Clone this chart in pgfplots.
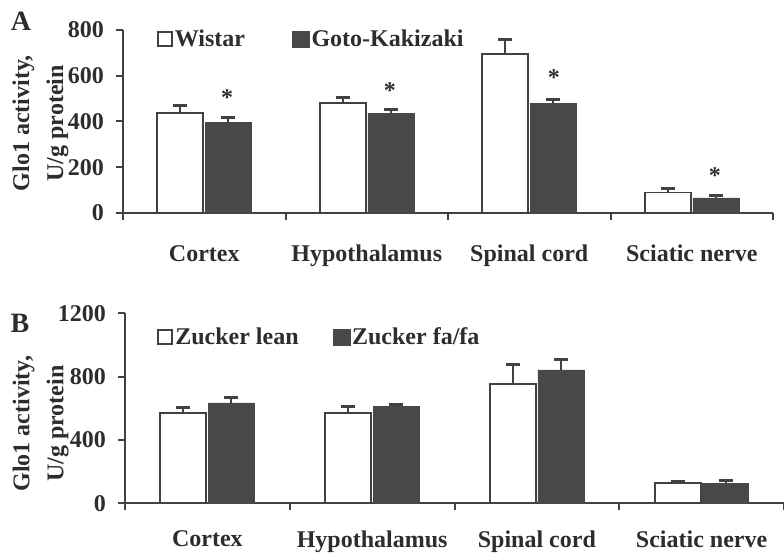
\documentclass[border=0pt]{standalone}
\usepackage{pgfplots}
\pgfplotsset{compat=1.18}
\usepackage{fontspec}
\setmainfont{Liberation Serif}
\definecolor{txt}{RGB}{45,45,45}
\definecolor{barc}{RGB}{72,72,72}
\definecolor{linec}{RGB}{65,65,65}
\newcommand{\bigf}{\fontsize{24}{34}\selectfont\bfseries}
\pgfplotsset{
  myaxis/.style={
    scale only axis,
    axis x line*=bottom, axis y line*=left,
    axis line style={linec, line width=2pt},
    xmin=-0.5, xmax=3.5, ymin=0,
    xtick={-0.5,0.5,1.5,2.5,3.5},
    xticklabels={},
    extra x ticks={0,1,2,3},
    extra x tick labels={Cortex,Hypothalamus,Spinal cord,Sciatic nerve},
    tick align=outside,
    major tick length=7pt,
    tick style={linec, line width=2pt},
    /pgf/number format/assume math mode=true,
    /pgf/number format/1000 sep={},
    ticklabel style={font=\bigf, text=txt},
    yticklabel style={inner sep=0pt, xshift=-12pt},
    xticklabel style={inner sep=0pt},
    ybar=2pt, bar width=46pt,
    legend style={draw=none, fill=none, inner sep=0pt, font=\bigf, text=txt,
      legend columns=2, nodes={inner xsep=2pt, inner ysep=0pt}},
    ylabel style={font=\bigf, text=txt, align=center, anchor=center, rotate=0},
  },
  wbar/.style={fill=white, draw=linec, line width=1.8pt,
    legend image code/.code={\draw[fill=white, draw=linec, line width=1.8pt] (0pt,-7pt) rectangle (14pt,7pt);},
    error bars/.cd, y dir=plus, y explicit, error mark=|,
    error bar style={linec, line width=1.8pt},
    error mark options={linec, line width=3pt, mark size=7pt}},
  dbar/.style={fill=barc, draw=barc, line width=0.5pt,
    legend image code/.code={\draw[fill=barc, draw=barc, line width=0.5pt] (0pt,-8pt) rectangle (17pt,8pt);},
    error bars/.cd, y dir=plus, y explicit, error mark=|,
    error bar style={linec, line width=1.8pt},
    error mark options={linec, line width=3pt, mark size=7pt}},
}
\begin{document}
\begin{tikzpicture}
\useasboundingbox (0pt,0pt) rectangle (784pt,552pt);
% Panel A
\begin{axis}[myaxis, at={(123pt,339pt)}, anchor=south west,
  width=650pt, height=183pt, ymax=800, ytick={0,200,400,600,800},
  extra x tick style={major tick style={draw=none}, xticklabel style={yshift=-25pt}},
  legend style={at={(rel axis cs:0.052,0.951)}, anchor=west,
    /tikz/every even column/.append style={column sep=45pt}},
  ylabel={Glo1 activity,\\U/g protein},
  ylabel style={at={(rel axis cs:-0.127,0.49)}}]
\addplot[wbar] coordinates {(0,437) +- (0,35) (1,482) +- (0,22) (2,695) +- (0,64) (3,90) +- (0,15)};
\addlegendentry{Wistar}
\addplot[dbar] coordinates {(0,395) +- (0,22) (1,436) +- (0,15) (2,478) +- (0,20) (3,66) +- (0,11)};
\addlegendentry{Goto-Kakizaki}
\node[font=\bigf, text=txt, yshift=-5pt] at (axis cs:0.14,525) {*};
\node[font=\bigf, text=txt, yshift=-5pt] at (axis cs:1.143,555) {*};
\node[font=\bigf, text=txt, yshift=-5pt] at (axis cs:2.152,612) {*};
\node[font=\bigf, text=txt, yshift=-5pt] at (axis cs:3.143,184) {*};
\end{axis}
% Panel B
\begin{axis}[myaxis, at={(125pt,48.7pt)}, anchor=south west,
  width=659pt, height=190pt, ymax=1200, ytick={0,400,800,1200},
  extra x tick style={major tick style={draw=none}, xticklabel style={yshift=-20pt}},
  legend style={at={(rel axis cs:0.049,0.875)}, anchor=west,
    /tikz/every even column/.append style={column sep=32pt}},
  ylabel={Glo1 activity,\\U/g protein},
  ylabel style={at={(rel axis cs:-0.128,0.42)}}]
\addplot[wbar] coordinates {(0,568) +- (0,38) (1,570) +- (0,43) (2,752) +- (0,126) (3,130) +- (0,7)};
\addlegendentry{Zucker lean}
\addplot[dbar] coordinates {(0,635) +- (0,32) (1,610) +- (0,15) (2,842) +- (0,68) (3,126) +- (0,17)};
\addlegendentry{Zucker fa/fa}
\end{axis}
\node[font=\fontsize{28}{28}\selectfont\bfseries, text=txt] at (21pt,531pt) {A};
\node[font=\fontsize{28}{28}\selectfont\bfseries, text=txt] at (20pt,229pt) {B};
\end{tikzpicture}
\end{document}
